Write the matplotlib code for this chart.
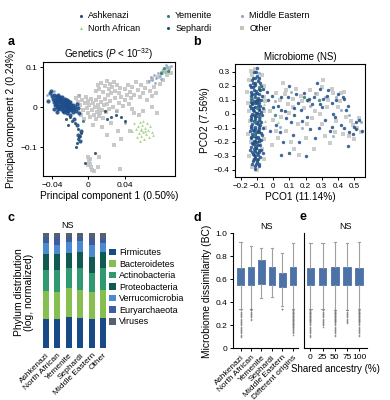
import numpy as np
import matplotlib
matplotlib.use('Agg')
import matplotlib.pyplot as plt
from matplotlib.ticker import FuncFormatter
from matplotlib.patches import Patch

plt.rcParams['font.family'] = ['Liberation Sans', 'DejaVu Sans']
plt.rcParams['mathtext.fontset'] = 'custom'
plt.rcParams['mathtext.rm'] = 'Liberation Sans'
plt.rcParams['mathtext.it'] = 'Liberation Sans:italic'
plt.rcParams['axes.linewidth'] = 0.8
plt.rcParams['xtick.major.width'] = 0.7
plt.rcParams['ytick.major.width'] = 0.7
plt.rcParams['xtick.major.size'] = 2.5
plt.rcParams['ytick.major.size'] = 2.5
plt.rcParams['xtick.major.pad'] = 1.5
plt.rcParams['ytick.major.pad'] = 1.5

# ---- origins / colours ----
origins = ['Ashkenazi', 'North African', 'Yemenite', 'Sephardi', 'Middle Eastern', 'Other']
origin_colors = {'Ashkenazi': '#1d4d8a', 'North African': '#a3d184', 'Yemenite': '#2f8470',
                 'Sephardi': '#244e66', 'Middle Eastern': '#8ea8c3', 'Other': '#c3c3c3'}
origin_markers = {'Ashkenazi': 'o', 'North African': '^', 'Yemenite': 'o',
                  'Sephardi': 'o', 'Middle Eastern': 'o', 'Other': 's'}

# ---- panel a: genetics PCA (PC1, PC2) ----
a_ashkenazi = np.array([
    (-0.040, 0.028), (-0.039, 0.020), (-0.038, 0.012), (-0.038, 0.030), (-0.037, 0.005), (-0.037, 0.018),
    (-0.036, 0.024), (-0.036, 0.010), (-0.035, 0.000), (-0.035, 0.015), (-0.034, 0.027), (-0.034, 0.006),
    (-0.033, 0.019), (-0.033, -0.004), (-0.032, 0.012), (-0.032, 0.023), (-0.031, 0.002), (-0.031, 0.016),
    (-0.030, 0.008), (-0.030, -0.006), (-0.030, 0.021), (-0.029, 0.013), (-0.029, 0.000), (-0.028, 0.018),
    (-0.028, 0.005), (-0.028, -0.009), (-0.027, 0.011), (-0.027, -0.002), (-0.026, 0.015), (-0.026, 0.003),
    (-0.025, -0.007), (-0.025, 0.009), (-0.024, 0.001), (-0.024, 0.013), (-0.023, -0.004), (-0.023, 0.007),
    (-0.022, -0.011), (-0.022, 0.003), (-0.021, 0.010), (-0.021, -0.005), (-0.020, 0.000), (-0.019, -0.008),
    (-0.019, 0.006), (-0.018, -0.002), (-0.017, -0.012), (-0.017, 0.004), (-0.016, -0.006), (-0.015, 0.001),
    (-0.014, -0.010), (-0.033, 0.030), (-0.031, 0.026), (-0.029, 0.024), (-0.026, 0.020), (-0.024, 0.017),
    (-0.022, 0.014), (-0.020, 0.012), (-0.035, 0.006), (-0.032, -0.002), (-0.027, -0.012), (-0.024, -0.014),
    (-0.042, 0.035), (-0.044, 0.015), (-0.041, 0.040), (-0.012, -0.003), (-0.013, 0.008), (-0.010, -0.015),
    (-0.034, -0.012), (-0.038, -0.005), (-0.020, -0.020), (-0.016, -0.030), (-0.013, -0.045),
    (-0.011, -0.070), (-0.009, -0.085), (-0.008, -0.060)])
a_other = np.array([
    (-0.014, 0.022), (-0.012, 0.012), (-0.010, 0.028), (-0.009, 0.004), (-0.007, 0.018), (-0.006, -0.008),
    (-0.004, 0.010), (-0.003, 0.026), (-0.002, -0.002), (-0.001, 0.015), (0.000, -0.015), (0.001, 0.005),
    (0.002, -0.025), (0.003, 0.020), (0.004, -0.008), (0.005, 0.010), (0.006, -0.020), (0.007, 0.000),
    (0.008, -0.030), (0.008, 0.018), (0.009, -0.012), (0.010, 0.006), (0.011, -0.022), (0.012, -0.004),
    (0.012, 0.025), (0.013, -0.016), (0.014, 0.012), (0.015, -0.008), (0.016, -0.028), (0.017, 0.004),
    (0.018, 0.020), (0.019, -0.012), (0.020, 0.008), (-0.008, -0.020), (-0.005, -0.030),
    (0.012, 0.045), (0.014, 0.060), (0.016, 0.038), (0.018, 0.052), (0.020, 0.065), (0.021, 0.030),
    (0.022, 0.044), (0.024, 0.058), (0.025, 0.036), (0.026, 0.050), (0.028, 0.062), (0.029, 0.041),
    (0.031, 0.055), (0.033, 0.034), (0.034, 0.048), (0.010, 0.055), (0.008, 0.040),
    (0.022, -0.005), (0.024, 0.015), (0.027, 0.000), (0.029, 0.022), (0.031, -0.010), (0.033, 0.010),
    (0.036, 0.025), (0.038, 0.002), (0.040, 0.018), (0.042, 0.030), (0.044, 0.008), (0.046, 0.022),
    (0.048, -0.005), (0.040, 0.045), (0.043, 0.055), (0.045, 0.038), (0.048, 0.050), (0.050, 0.030),
    (0.052, 0.062), (0.054, 0.042), (0.056, 0.025), (0.058, 0.055), (0.060, 0.035), (0.062, 0.048),
    (0.064, 0.018), (0.065, 0.062), (0.067, 0.040), (0.069, 0.028), (0.070, 0.070), (0.072, 0.050),
    (0.074, 0.035), (0.076, 0.075), (0.078, 0.058), (0.080, 0.085), (0.082, 0.068), (0.084, 0.092),
    (0.086, 0.080), (0.088, 0.098), (0.090, 0.086), (0.005, -0.045), (0.015, -0.050), (0.025, -0.040),
    (0.032, -0.060), (0.020, -0.070), (0.036, -0.080), (0.028, -0.095), (0.045, -0.060), (0.055, -0.020),
    (0.060, -0.010), (0.070, 0.000), (0.075, -0.015), (0.050, -0.015), (0.000, -0.125), (0.001, -0.135),
    (0.002, -0.142), (0.003, -0.150), (-0.001, -0.145), (0.004, -0.158), (0.006, -0.160), (0.002, -0.130),
    (0.012, -0.125), (0.034, -0.155), (0.010, -0.150)])
a_sephardi = np.array([
    (-0.020, -0.025), (-0.018, -0.035), (-0.015, -0.040), (-0.022, -0.045), (-0.012, -0.055),
    (-0.010, -0.075), (-0.011, -0.080), (-0.009, -0.072), (-0.013, -0.090), (-0.014, -0.100),
    (-0.008, -0.065), (-0.025, -0.030), (0.020, -0.030), (0.025, -0.025), (0.030, -0.020),
    (0.018, -0.010), (-0.004, -0.140), (0.007, -0.115), (0.036, -0.025), (0.040, -0.035)])
a_middle_eastern = np.array([
    (0.066, 0.065), (0.068, 0.075), (0.070, 0.068), (0.072, 0.080), (0.074, 0.072), (0.076, 0.085),
    (0.078, 0.078), (0.080, 0.090), (0.082, 0.095), (0.084, 0.088), (0.086, 0.100), (0.088, 0.094),
    (0.085, 0.105), (0.090, 0.102), (0.079, 0.070), (0.073, 0.060), (-0.038, 0.040), (-0.045, 0.030),
    (-0.010, 0.030), (0.030, -0.010), (0.040, -0.040)])
a_north_african = np.array([
    (0.050, -0.040), (0.052, -0.055), (0.054, -0.048), (0.055, -0.065), (0.056, -0.038), (0.057, -0.058),
    (0.058, -0.072), (0.059, -0.045), (0.060, -0.062), (0.061, -0.080), (0.062, -0.052), (0.063, -0.068),
    (0.064, -0.040), (0.065, -0.058), (0.066, -0.075), (0.067, -0.048), (0.053, -0.075), (0.056, -0.085),
    (0.060, -0.035), (0.069, -0.062), (0.048, -0.060), (0.058, -0.055), (0.062, -0.060), (0.071, -0.070),
    (0.082, 0.095), (0.085, 0.090)])
a_yemenite = np.array([(0.079, 0.084), (0.083, 0.098), (0.087, 0.091), (-0.006, -0.035)])

# ---- panel b: microbiome PCoA (PCO1, PCO2) ----
b_ashkenazi = np.array([
    (-0.12, 0.30), (-0.10, 0.27), (-0.13, 0.24), (-0.08, 0.22), (-0.11, 0.21), (-0.14, 0.19), (-0.09, 0.18),
    (-0.12, 0.17), (-0.10, 0.15), (-0.13, 0.14), (-0.07, 0.13), (-0.11, 0.12), (-0.14, 0.11), (-0.09, 0.10),
    (-0.12, 0.09), (-0.10, 0.08), (-0.13, 0.07), (-0.08, 0.06), (-0.11, 0.05), (-0.14, 0.04), (-0.09, 0.03),
    (-0.12, 0.02), (-0.10, 0.01), (-0.13, 0.00), (-0.07, -0.01), (-0.11, -0.02), (-0.14, -0.03),
    (-0.09, -0.04), (-0.12, -0.05), (-0.10, -0.06), (-0.13, -0.07), (-0.08, -0.08), (-0.11, -0.09),
    (-0.14, -0.10), (-0.09, -0.11), (-0.12, -0.12), (-0.10, -0.13), (-0.13, -0.14), (-0.07, -0.15),
    (-0.11, -0.16), (-0.14, -0.17), (-0.09, -0.18), (-0.12, -0.19), (-0.10, -0.20), (-0.13, -0.21),
    (-0.08, -0.22), (-0.11, -0.23), (-0.12, -0.25), (-0.09, -0.26), (-0.13, -0.27), (-0.10, -0.28),
    (-0.11, -0.30), (-0.08, -0.31), (-0.12, -0.32), (-0.10, -0.34), (-0.13, -0.36), (-0.09, -0.37),
    (-0.115, 0.255), (-0.095, 0.235), (-0.125, 0.195), (-0.105, 0.165), (-0.085, 0.145), (-0.135, 0.125),
    (-0.095, 0.115), (-0.115, 0.075), (-0.085, 0.035), (-0.125, 0.045), (-0.105, -0.015), (-0.135, -0.045),
    (-0.095, -0.075), (-0.115, -0.105), (-0.125, -0.155), (-0.105, -0.175), (-0.085, -0.195),
    (-0.135, -0.235), (-0.115, -0.265), (-0.095, -0.295), (-0.105, -0.355),
    (-0.145, 0.21), (-0.065, 0.18), (-0.145, 0.06), (-0.065, 0.04), (-0.145, -0.12), (-0.065, -0.10),
    (-0.145, -0.26), (-0.065, -0.28), (-0.105, 0.30), (-0.085, 0.26), (-0.125, 0.22), (-0.075, 0.20),
    (-0.135, 0.16), (-0.115, 0.14), (-0.075, 0.10), (-0.105, 0.09), (-0.135, 0.085), (-0.085, 0.075),
    (-0.095, 0.055), (-0.125, 0.025), (-0.075, 0.015), (-0.105, 0.005), (-0.135, -0.015), (-0.085, -0.025),
    (-0.115, -0.035), (-0.075, -0.055), (-0.105, -0.065), (-0.135, -0.085), (-0.085, -0.095),
    (-0.125, -0.115), (-0.095, -0.125), (-0.075, -0.135), (-0.115, -0.145), (-0.135, -0.165),
    (-0.095, -0.165), (-0.075, -0.185), (-0.115, -0.195), (-0.125, -0.215), (-0.095, -0.225),
    (-0.105, -0.245), (-0.075, -0.255), (-0.125, -0.285), (-0.085, -0.275), (-0.115, -0.315),
    (-0.095, -0.325), (-0.125, -0.335), (-0.085, -0.355), (-0.115, -0.375), (-0.11, -0.39), (-0.10, 0.33),
    (-0.03, 0.10), (0.00, 0.05), (0.02, -0.08), (0.05, 0.12), (0.08, -0.03), (0.10, 0.20), (0.12, -0.15),
    (0.15, 0.08), (0.18, -0.05), (0.22, 0.11), (0.25, 0.12), (0.28, -0.10), (0.30, 0.05), (0.33, 0.13),
    (0.36, 0.08), (0.38, -0.02), (0.40, 0.14), (0.42, -0.08), (0.45, 0.03), (0.47, -0.13), (0.50, -0.09),
    (0.53, -0.04), (0.46, -0.23), (0.27, 0.22), (0.20, -0.30), (0.06, -0.20), (-0.02, -0.12),
    (-0.04, 0.16), (0.35, -0.12), (0.14, 0.14),
    (-0.01, 0.13), (0.03, 0.06), (0.04, -0.13), (0.07, 0.02), (0.09, 0.12), (0.11, -0.06), (0.13, 0.04),
    (0.16, -0.20), (0.19, 0.15), (0.21, -0.02), (0.24, 0.07), (0.26, -0.17), (0.31, 0.11), (0.32, -0.04),
    (0.34, 0.17), (0.37, 0.00), (0.39, 0.10), (0.43, 0.12), (0.44, -0.10), (0.46, 0.06), (0.49, -0.14),
    (0.51, -0.06), (0.55, -0.12), (0.29, 0.18), (0.17, 0.03), (0.05, -0.29)])
b_other = np.array([
    (-0.16, 0.16), (-0.15, 0.02), (-0.14, -0.20), (-0.13, 0.28), (-0.12, -0.33), (-0.11, 0.32),
    (-0.09, 0.24), (-0.08, -0.06), (-0.10, -0.40), (-0.06, 0.12), (-0.05, -0.10), (-0.07, -0.25),
    (-0.15, -0.30), (-0.06, 0.20), (-0.12, 0.13), (-0.10, -0.17),
    (-0.155, 0.08), (-0.145, -0.05), (-0.06, -0.18), (-0.055, 0.02), (-0.15, 0.24), (-0.13, -0.38),
    (-0.07, 0.28), (-0.14, 0.31), (-0.06, -0.32), (-0.155, -0.14), (-0.05, 0.09),
    (-0.02, 0.02), (0.00, -0.04), (0.02, 0.15), (0.03, -0.17), (0.05, -0.02), (0.07, 0.14), (0.08, -0.12),
    (0.10, 0.01), (0.12, 0.11), (0.13, -0.25), (0.15, -0.07), (0.17, 0.13), (0.19, 0.04), (0.20, -0.17),
    (0.22, 0.09), (0.24, -0.03), (0.25, -0.25), (0.27, 0.14), (0.29, 0.00), (0.30, 0.19), (0.32, -0.16),
    (0.34, 0.10), (0.37, 0.15), (0.39, -0.05), (0.41, 0.09), (0.43, -0.14), (0.44, 0.16), (0.48, -0.05),
    (0.50, -0.18), (0.52, -0.10), (0.54, -0.13), (0.35, -0.21), (0.06, 0.22), (0.16, -0.29), (0.09, 0.07),
    (-0.01, -0.22), (0.40, 0.05), (0.31, 0.24),
    (0.04, 0.10), (0.11, -0.20), (0.14, 0.18), (0.18, 0.09), (0.21, -0.07), (0.26, 0.02), (0.33, 0.05),
    (0.36, 0.18), (0.38, -0.13), (0.42, 0.15), (0.45, -0.02), (0.49, -0.08), (0.53, -0.03), (0.47, -0.16),
    (0.12, 0.05), (0.02, -0.12), (0.08, 0.17), (0.23, 0.17), (0.30, -0.07)])
b_sephardi = np.array([
    (-0.11, 0.22), (-0.10, 0.10), (-0.12, -0.01), (-0.09, -0.13), (-0.11, -0.21), (-0.10, -0.33),
    (-0.13, 0.08), (-0.08, 0.17), (-0.12, -0.29), (-0.09, 0.00), (-0.105, -0.24), (-0.125, 0.26),
    (0.05, 0.03), (0.13, -0.01), (0.21, 0.10), (0.29, 0.07), (0.36, -0.09), (0.44, 0.11), (0.51, -0.11),
    (0.23, -0.11), (0.10, -0.28)])
b_middle_eastern = np.array([
    (-0.14, 0.14), (-0.11, 0.05), (-0.13, -0.09), (-0.10, -0.22), (-0.12, 0.20), (-0.08, -0.03),
    (-0.09, 0.29), (-0.11, -0.27), (0.01, 0.09), (0.04, -0.09), (0.11, 0.16), (0.18, -0.10), (0.23, 0.06),
    (0.26, 0.15), (0.32, 0.12), (0.39, 0.12), (0.42, 0.03), (0.47, -0.01), (0.54, -0.06), (0.37, -0.16)])
b_yemenite = np.array([(-0.10, 0.04), (-0.12, -0.15), (-0.09, 0.19), (-0.11, -0.06), (0.01, -0.01),
                       (0.19, 0.12), (-0.13, 0.11), (0.28, 0.10)])
b_north_african = np.array([(-0.07, 0.00), (-0.05, -0.05), (-0.10, -0.11), (-0.06, 0.07), (-0.12, 0.15),
                            (0.03, -0.06), (-0.08, -0.20)])

# ---- panel c: phylum distribution (stacked, % of bar) ----
c_groups = ['Ashkenazi', 'North African', 'Yemenite', 'Sephardi', 'Middle Eastern', 'Other']
phyla = ['Firmicutes', 'Bacteroidetes', 'Actinobacteria', 'Proteobacteria',
         'Verrucomicrobia', 'Euryarchaeota', 'Viruses']
phyla_colors = ['#174a87', '#86bf4f', '#2f9a6f', '#0f5b52', '#4a8bd0', '#3f5c9e', '#56606f']
firmicutes = [24.8, 24.8, 27.1, 25.7, 24.8, 25.7]
bacteroidetes = [24.7, 24.1, 24.8, 24.7, 24.1, 24.7]
actinobacteria = [18.4, 19.0, 17.5, 19.0, 16.6, 19.0]
proteobacteria = [13.7, 13.7, 13.1, 14.5, 13.5, 14.5]
verrucomicrobia = [9.6, 8.1, 10.1, 9.4, 10.8, 7.3]
euryarchaeota = [5.8, 7.3, 4.4, 3.8, 5.9, 4.6]
viruses = [3.0, 3.0, 3.0, 2.9, 4.3, 4.2]

# ---- panel d: dissimilarity by origin ----
d_groups = ['Ashkenazi', 'North African', 'Yemenite', 'Sephardi', 'Middle Eastern', 'Different origins']
d_whishi = [0.922, 0.892, 0.870, 0.875, 0.826, 0.920]
d_q3 = [0.698, 0.710, 0.768, 0.705, 0.657, 0.705]
d_med = [0.630, 0.632, 0.660, 0.630, 0.600, 0.630]
d_q1 = [0.555, 0.555, 0.559, 0.555, 0.536, 0.555]
d_whislo = [0.342, 0.345, 0.435, 0.449, 0.365, 0.342]
d_fliers = [
    [0.33, 0.32, 0.31, 0.30, 0.29, 0.28, 0.27, 0.26, 0.25, 0.24, 0.23, 0.22, 0.21, 0.20, 0.19, 0.18,
     0.17, 0.16, 0.15, 0.14, 0.13, 0.12, 0.11, 0.10],
    [0.34, 0.335, 0.33, 0.32, 0.31, 0.30, 0.29, 0.28, 0.27, 0.26, 0.25],
    [],
    [],
    [0.345, 0.34],
    [0.335, 0.33, 0.325, 0.32, 0.315, 0.31, 0.305, 0.30, 0.295, 0.29, 0.285, 0.28, 0.275, 0.27, 0.265,
     0.26, 0.255, 0.25, 0.245, 0.24, 0.235, 0.23, 0.225, 0.22, 0.215, 0.21, 0.205, 0.20, 0.195, 0.19,
     0.185, 0.18, 0.17, 0.16, 0.15, 0.14, 0.13, 0.12]]

# ---- panel e: dissimilarity by shared ancestry ----
e_ancestry = ['0', '25', '50', '75', '100']
e_whishi = [0.920, 0.920, 0.922, 0.920, 0.922]
e_q3 = [0.702, 0.702, 0.708, 0.710, 0.702]
e_med = [0.630, 0.630, 0.630, 0.632, 0.630]
e_q1 = [0.555, 0.555, 0.553, 0.555, 0.555]
e_whislo = [0.342, 0.345, 0.330, 0.335, 0.340]
e_fliers = [
    [0.335, 0.33, 0.325, 0.32, 0.315, 0.31, 0.305, 0.30, 0.295, 0.29, 0.285, 0.28, 0.275, 0.27, 0.265,
     0.26, 0.255, 0.25, 0.245, 0.24, 0.235, 0.23, 0.22, 0.21, 0.20, 0.19, 0.18, 0.17, 0.16, 0.15, 0.14,
     0.13, 0.12, 0.11, 0.10],
    [0.335, 0.33, 0.32, 0.31, 0.30, 0.29, 0.28, 0.27, 0.26, 0.25, 0.24, 0.23, 0.22, 0.21, 0.20, 0.19],
    [0.33, 0.325, 0.32, 0.315, 0.31, 0.305, 0.30, 0.295, 0.29, 0.285, 0.28, 0.275, 0.27, 0.265, 0.26,
     0.255, 0.25, 0.245, 0.24, 0.235, 0.23, 0.22, 0.21, 0.20, 0.19, 0.18, 0.17, 0.16, 0.15, 0.14, 0.13,
     0.12, 0.11],
    [0.33, 0.32, 0.31, 0.30, 0.29, 0.28, 0.27, 0.26, 0.25, 0.24, 0.23, 0.22],
    [0.335, 0.33, 0.325, 0.32, 0.315, 0.31, 0.305, 0.30, 0.295, 0.29, 0.285, 0.28, 0.275, 0.27, 0.265,
     0.26, 0.255, 0.25, 0.245, 0.24, 0.235, 0.23, 0.22, 0.21, 0.20, 0.19, 0.18, 0.17, 0.16, 0.15, 0.14,
     0.13, 0.12, 0.11]]


def num_fmt(v, pos=None):
    if abs(v) < 1e-9:
        return '0'
    return ('%g' % v).replace('-', '\u2212')


fig = plt.figure(figsize=(3.9, 4.0), dpi=100)

# overlay in pixel coords for the shared legend and panel letters
ov = fig.add_axes([0, 0, 1, 1])
ov.set_xlim(0, 390)
ov.set_ylim(400, 0)
ov.axis('off')

leg_cols = [(80.7, ['Ashkenazi', 'North African']), (167.7, ['Yemenite', 'Sephardi']),
            (241.7, ['Middle Eastern', 'Other'])]
for cx, names in leg_cols:
    for ry, name in zip([15.7, 28.3], names):
        ov.scatter([cx], [ry], s=5 if name != 'Other' else 7, marker=origin_markers[name],
                   color=origin_colors[name], linewidths=0)
        ov.text(cx + 7.5, ry, name, va='center', ha='left', fontsize=6.5)

for letter, (lx, ly) in zip('abcde', [(8, 42), (193, 42), (8, 218), (194, 218), (300, 217)]):
    ov.text(lx, ly, letter, fontsize=9, fontweight='bold', ha='left', va='center')

# ---------- a ----------
ax_a = fig.add_axes([0.110, 0.560, 0.339, 0.285])
groups_a = [('Other', a_other, 7), ('Middle Eastern', a_middle_eastern, 4), ('Ashkenazi', a_ashkenazi, 9),
            ('Sephardi', a_sephardi, 5), ('North African', a_north_african, 4), ('Yemenite', a_yemenite, 5)]
for name, pts, size in groups_a:
    ax_a.scatter(pts[:, 0], pts[:, 1], s=size, marker=origin_markers[name], color=origin_colors[name],
                 linewidths=0, alpha=0.9)
ax_a.set_xlim(-0.0499, 0.0948)
ax_a.set_ylim(-0.1725, 0.1125)
ax_a.set_xticks([-0.04, 0, 0.04])
ax_a.set_yticks([-0.1, 0, 0.1])
ax_a.xaxis.set_major_formatter(FuncFormatter(num_fmt))
ax_a.yaxis.set_major_formatter(FuncFormatter(num_fmt))
ax_a.tick_params(labelsize=6)
ax_a.set_title('Genetics ($P$ < 10$^{-32}$)', fontsize=7, pad=3)
ax_a.set_xlabel('Principal component 1 (0.50%)', fontsize=7.3, labelpad=2)
ax_a.set_ylabel('Principal component 2 (0.24%)', fontsize=7.3, labelpad=3)

# ---------- b ----------
ax_b = fig.add_axes([0.603, 0.5575, 0.333, 0.2825])
groups_b = [('Other', b_other, 7), ('Middle Eastern', b_middle_eastern, 5), ('North African', b_north_african, 5),
            ('Ashkenazi', b_ashkenazi, 6), ('Sephardi', b_sephardi, 6), ('Yemenite', b_yemenite, 6)]
for name, pts, size in groups_b:
    ax_b.scatter(pts[:, 0], pts[:, 1], s=size, marker=origin_markers[name], color=origin_colors[name],
                 linewidths=0, alpha=0.85)
ax_b.set_xlim(-0.235, 0.567)
ax_b.set_ylim(-0.45, 0.357)
ax_b.set_xticks([-0.2, -0.1, 0, 0.1, 0.2, 0.3, 0.4, 0.5])
ax_b.set_yticks([-0.4, -0.3, -0.2, -0.1, 0, 0.1, 0.2, 0.3])
ax_b.xaxis.set_major_formatter(FuncFormatter(num_fmt))
ax_b.yaxis.set_major_formatter(FuncFormatter(num_fmt))
ax_b.tick_params(labelsize=5.8)
ax_b.set_title('Microbiome (NS)', fontsize=7, pad=3)
ax_b.set_xlabel('PCO1 (11.14%)', fontsize=7.3, labelpad=2)
ax_b.set_ylabel('PCO2 (7.56%)', fontsize=7.3, labelpad=3)

# ---------- c ----------
ax_c = fig.add_axes([0.1026, 0.1308, 0.177, 0.2859])
xc = np.arange(len(c_groups))
bottom = np.zeros(len(c_groups))
handles = []
for vals, name, col in zip([firmicutes, bacteroidetes, actinobacteria, proteobacteria,
                            verrucomicrobia, euryarchaeota, viruses], phyla, phyla_colors):
    ax_c.bar(xc, vals, bottom=bottom, width=0.55, color=col, linewidth=0)
    bottom += np.array(vals)
    handles.append(Patch(facecolor=col, label=name))
ax_c.set_xlim(-0.5, 5.5)
ax_c.set_ylim(0, 100)
for s in ax_c.spines.values():
    s.set_visible(False)
ax_c.set_yticks([])
ax_c.set_xticks(xc)
ax_c.set_xticklabels(c_groups, rotation=45, ha='right', rotation_mode='anchor', fontsize=6)
ax_c.tick_params(axis='x', length=0, pad=3)
ax_c.legend(handles=handles, loc='upper left', bbox_to_anchor=(1.0, 0.87), frameon=False, fontsize=6.5,
            handlelength=0.75, handleheight=0.75, handletextpad=0.4, labelspacing=0.28, borderaxespad=0,
            borderpad=0)
ov.text(67.5, 226, 'NS', fontsize=6.5, ha='center', va='center')
ov.text(24, 292, 'Phylum distribution\n(log, normalized)', fontsize=7.5, rotation=90, ha='center',
        va='center', linespacing=1.1)

# ---------- d / e ----------
box_col = '#4d72a7'
wh_col = '#a0a0a0'


def draw_box(ax, whislo, q1, med, q3, whishi, fliers):
    stats = [dict(whislo=a, q1=b, med=c, q3=d, whishi=e, fliers=f)
             for a, b, c, d, e, f in zip(whislo, q1, med, q3, whishi, fliers)]
    ax.bxp(stats, positions=range(len(stats)), widths=0.62, patch_artist=True, showfliers=True,
           boxprops=dict(facecolor=box_col, edgecolor=box_col, linewidth=0.6),
           medianprops=dict(color=box_col, linewidth=0.6),
           whiskerprops=dict(color=wh_col, linewidth=0.8),
           capprops=dict(color=wh_col, linewidth=0.8), capwidths=0.2,
           flierprops=dict(marker='o', markersize=1.2, markerfacecolor='#7a7a7a',
                           markeredgecolor='none', alpha=0.8))
    ax.set_ylim(0, 1.0)
    ax.spines['top'].set_visible(False)
    ax.spines['right'].set_visible(False)


ax_d = fig.add_axes([0.598, 0.129, 0.166, 0.2875])
draw_box(ax_d, d_whislo, d_q1, d_med, d_q3, d_whishi, d_fliers)
ax_d.set_xlim(-0.7, 5.5)
ax_d.set_yticks([0, 0.2, 0.4, 0.6, 0.8, 1.0])
ax_d.yaxis.set_major_formatter(FuncFormatter(lambda v, p: '0' if v == 0 else '%.1f' % v))
ax_d.set_xticks(range(len(d_groups)))
ax_d.set_xticklabels(d_groups, rotation=45, ha='right', rotation_mode='anchor', fontsize=6)
ax_d.tick_params(axis='y', labelsize=6)
ax_d.set_ylabel('Microbiome dissimilarity (BC)', fontsize=7.4, labelpad=3)

ax_e = fig.add_axes([0.780, 0.129, 0.160, 0.2875])
draw_box(ax_e, e_whislo, e_q1, e_med, e_q3, e_whishi, e_fliers)
ax_e.set_xlim(-0.5, 4.6)
ax_e.set_yticks([])
ax_e.set_xticks(range(len(e_ancestry)))
ax_e.set_xticklabels(e_ancestry, fontsize=6)
ax_e.set_xlabel('Shared ancestry (%)', fontsize=7, labelpad=2)

ov.text(266.7, 226.5, 'NS', fontsize=6.5, ha='center', va='center')
ov.text(345.5, 226.5, 'NS', fontsize=6.5, ha='center', va='center')

fig.savefig('out.png', dpi=100)
